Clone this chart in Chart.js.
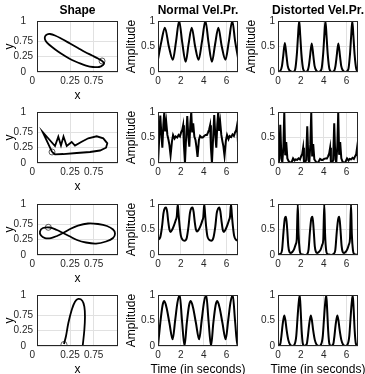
<!DOCTYPE html>
<html>
<head>
<meta charset="utf-8">
<script src="https://cdn.jsdelivr.net/npm/chart.js@4.4.1/dist/chart.umd.min.js"></script>
<style>
  html, body { margin: 0; padding: 0; background: #fff; width: 365px; height: 374px; overflow: hidden; }
  canvas { position: absolute; }
</style>
</head>
<body>
<script>
// ---- tick labels ----
const timeTicks = [0, 2, 4, 6];
const ampTicks = [0, 0.5, 1];
const shapeXTicks = [0, 0.48, 0.78];
const shapeXLabels = ['0', '0.25', '0.75'];
const shapeYTicks = [0, 0.3, 0.6, 1];
const shapeYLabels = ['0', '0.25', '0.75', '1'];

// ---- shapes (x, y) ----
const shape1X = [0.887, 0.836, 0.760, 0.670, 0.581, 0.480, 0.378, 0.289, 0.225, 0.187, 0.162, 0.162, 0.187, 0.251, 0.327, 0.416, 0.505, 0.594, 0.683, 0.772, 0.849, 0.900, 0.913, 0.887];
const shape1Y = [0.216, 0.265, 0.324, 0.392, 0.471, 0.559, 0.647, 0.716, 0.745, 0.735, 0.696, 0.637, 0.578, 0.490, 0.402, 0.314, 0.235, 0.176, 0.127, 0.098, 0.098, 0.137, 0.176, 0.216];
const shape1Start = [0.887, 0.216];

const shape2X = [0.251, 0.132, 0.289, 0.331, 0.365, 0.397, 0.438, 0.501, 0.543, 0.628, 0.712, 0.819, 0.903, 0.954, 0.938, 0.861, 0.734, 0.565, 0.394, 0.289, 0.251];
const shape2Y = [0.216, 0.608, 0.333, 0.516, 0.343, 0.520, 0.333, 0.412, 0.343, 0.418, 0.484, 0.524, 0.484, 0.386, 0.300, 0.245, 0.216, 0.196, 0.176, 0.171, 0.216];
const shape2Start = [0.251, 0.216];

const shape3X = [0.391, 0.314, 0.225, 0.136, 0.098, 0.111, 0.162, 0.238, 0.314, 0.391, 0.480, 0.581, 0.709, 0.836, 0.950, 1.027, 1.052, 1.027, 0.938, 0.810, 0.683, 0.569, 0.467, 0.391];
const shape3Y = [0.431, 0.490, 0.539, 0.529, 0.461, 0.382, 0.333, 0.333, 0.373, 0.431, 0.510, 0.578, 0.618, 0.608, 0.569, 0.500, 0.422, 0.333, 0.265, 0.225, 0.245, 0.294, 0.373, 0.431];
const shape3Start = [0.204, 0.543];

const shape4X = [0.403, 0.429, 0.458, 0.501, 0.543, 0.585, 0.636, 0.662, 0.670, 0.662, 0.641];
const shape4Y = [0.039, 0.196, 0.445, 0.706, 0.869, 0.922, 0.888, 0.771, 0.575, 0.314, 0.0];
const shape4Start = [0.403, 0.03];

// ---- velocity profiles: time (s) and amplitude ----
const normal1T = [0, 0.3, 0.6, 0.95, 1.3, 1.58, 1.85, 2.12, 2.42, 2.68, 2.95, 3.25, 3.55, 3.85, 4.15, 4.42, 4.72, 5.0, 5.28, 5.58, 5.9, 6.2, 6.5, 6.75, 7.0];
const normal1 = [0.25, 0.6, 0.87, 0.5, 0.24, 0.6, 1.0, 0.58, 0.2, 0.55, 0.87, 0.5, 0.24, 0.6, 1.0, 0.58, 0.2, 0.55, 0.87, 0.5, 0.24, 0.6, 1.0, 0.6, 0.28];
const distorted1T = [0, 0.2, 0.35, 0.45, 0.6, 0.75, 0.85, 1.0, 1.3, 1.5, 1.65, 1.75, 1.85, 1.95, 2.05, 2.2, 2.42,
  2.6, 2.7, 2.8, 2.95, 3.1, 3.2, 3.35, 3.55, 3.8, 3.95, 4.05, 4.15, 4.25, 4.35, 4.5, 4.72,
  4.93, 5.03, 5.13, 5.28, 5.43, 5.53, 5.68, 5.9, 6.15, 6.3, 6.4, 6.5, 6.6, 6.7, 6.85, 7.0];
const distorted1 = [0, 0.02, 0.12, 0.3, 0.57, 0.3, 0.12, 0.03, 0, 0.05, 0.35, 0.7, 1.0, 0.7, 0.35, 0.06, 0,
  0.03, 0.12, 0.3, 0.56, 0.3, 0.12, 0.03, 0, 0.05, 0.35, 0.7, 1.0, 0.7, 0.35, 0.06, 0,
  0.03, 0.12, 0.3, 0.56, 0.3, 0.12, 0.03, 0, 0.05, 0.35, 0.7, 1.0, 0.7, 0.35, 0.06, 0.01];

const cycle2T = [0, 0.1, 0.2, 0.3, 0.38, 0.47, 0.55, 0.63, 0.72, 0.82, 0.92, 1.0, 1.1, 1.22, 1.32, 1.45, 1.55, 1.68, 1.8, 1.92, 2.02, 2.12, 2.2, 2.27,
  2.36, 2.46, 2.56, 2.66, 2.74, 2.83, 2.91, 2.99, 3.08, 3.18, 3.28, 3.36, 3.46, 3.58, 3.68, 3.81, 3.91, 4.04, 4.16, 4.28, 4.38, 4.48, 4.56, 4.63,
  4.72, 4.82, 4.92, 5.02, 5.1, 5.19, 5.27, 5.35, 5.44, 5.54, 5.64, 5.72, 5.82, 5.94, 6.04, 6.17, 6.27, 6.4, 6.52, 6.64, 6.74, 6.84, 6.92, 7.0];
const normal2 = [0, 0.45, 0.93, 0.55, 0.3, 0.75, 1.0, 0.62, 0.8, 0.55, 0.45, 0.35, 0.15, 0.42, 0.55, 0.48, 0.52, 0.5, 0.55, 0.52, 0.6, 0.65, 0.74, 0.35,
  0, 0.5, 0.92, 0.5, 0.32, 0.78, 1.0, 0.6, 0.78, 0.52, 0.45, 0.32, 0.12, 0.45, 0.53, 0.5, 0.5, 0.53, 0.55, 0.55, 0.6, 0.66, 0.74, 0.3,
  0, 0.48, 0.94, 0.52, 0.3, 0.76, 1.0, 0.63, 0.8, 0.55, 0.42, 0.33, 0.14, 0.44, 0.55, 0.47, 0.53, 0.51, 0.56, 0.53, 0.6, 0.64, 0.74, 0.4];
const distorted2 = [0, 0.04, 0.75, 0.09, 0.01, 0.32, 1.0, 0.15, 0.41, 0.09, 0.04, 0.02, 0, 0.03, 0.09, 0.05, 0.07, 0.06, 0.09, 0.07, 0.13, 0.18, 0.3, 0.02,
  0, 0.06, 0.72, 0.06, 0.01, 0.37, 1.0, 0.13, 0.37, 0.07, 0.04, 0.01, 0, 0.04, 0.08, 0.06, 0.06, 0.08, 0.09, 0.09, 0.13, 0.19, 0.3, 0.01,
  0, 0.05, 0.78, 0.07, 0.01, 0.33, 1.0, 0.16, 0.41, 0.09, 0.03, 0.01, 0, 0.04, 0.09, 0.05, 0.08, 0.07, 0.1, 0.08, 0.13, 0.17, 0.3, 0.03];

const cycle3T = [0, 0.2, 0.35, 0.48, 0.6, 0.7, 0.8, 0.9, 1.0, 1.1, 1.25, 1.4, 1.55, 1.64, 1.73, 1.8, 1.9, 2.0, 2.15,
  2.32, 2.52, 2.67, 2.8, 2.92, 3.02, 3.12, 3.22, 3.32, 3.42, 3.57, 3.72, 3.87, 3.96, 4.05, 4.12, 4.22, 4.32, 4.47,
  4.66, 4.86, 5.01, 5.14, 5.26, 5.36, 5.46, 5.56, 5.66, 5.76, 5.91, 6.06, 6.21, 6.3, 6.39, 6.46, 6.56, 6.66, 6.81, 7.0];
const normal3 = [0.3, 0.35, 0.55, 0.82, 0.92, 0.93, 0.85, 0.65, 0.5, 0.45, 0.5, 0.58, 0.68, 0.75, 1.0, 0.8, 0.55, 0.38, 0.3,
  0.28, 0.34, 0.56, 0.83, 0.92, 0.93, 0.84, 0.64, 0.5, 0.46, 0.5, 0.57, 0.67, 0.74, 1.0, 0.8, 0.54, 0.37, 0.3,
  0.28, 0.35, 0.55, 0.82, 0.91, 0.93, 0.85, 0.66, 0.5, 0.45, 0.5, 0.58, 0.68, 0.75, 1.0, 0.8, 0.55, 0.38, 0.3, 0.28];
const distorted3 = [0.01, 0.02, 0.09, 0.45, 0.72, 0.75, 0.52, 0.18, 0.06, 0.04, 0.06, 0.11, 0.21, 0.3, 1.0, 0.41, 0.09, 0.02, 0.01,
  0, 0.01, 0.1, 0.47, 0.72, 0.75, 0.5, 0.17, 0.06, 0.04, 0.06, 0.1, 0.2, 0.3, 1.0, 0.41, 0.08, 0.02, 0.01,
  0, 0.02, 0.09, 0.45, 0.7, 0.75, 0.52, 0.19, 0.06, 0.04, 0.06, 0.11, 0.21, 0.32, 1.0, 0.41, 0.09, 0.02, 0.01, 0];

const normal4T = [0, 0.2, 0.4, 0.55, 0.75, 1.0, 1.28, 1.5, 1.7, 1.9, 2.1,
  2.32, 2.52, 2.72, 2.87, 3.07, 3.32, 3.6, 3.82, 4.02, 4.22, 4.42,
  4.64, 4.84, 5.04, 5.19, 5.39, 5.64, 5.92, 6.14, 6.34, 6.54, 6.74, 6.96, 7.0];
const normal4 = [0, 0.45, 0.8, 0.88, 0.75, 0.45, 0.13, 0.5, 0.85, 1.0, 0.5,
  0, 0.45, 0.8, 0.88, 0.75, 0.45, 0.13, 0.5, 0.85, 1.0, 0.5,
  0, 0.45, 0.8, 0.88, 0.75, 0.45, 0.13, 0.5, 0.85, 1.0, 0.5, 0, 0.08];
const distorted4T = [0, 0.2, 0.3, 0.4, 0.55, 0.65, 0.75, 0.9, 1.05, 1.28, 1.45, 1.6, 1.7, 1.8, 1.9, 1.98, 2.07, 2.17,
  2.32, 2.52, 2.62, 2.72, 2.87, 2.97, 3.07, 3.22, 3.37, 3.6, 3.77, 3.92, 4.02, 4.12, 4.22, 4.3, 4.39, 4.49,
  4.64, 4.84, 4.94, 5.04, 5.19, 5.29, 5.39, 5.54, 5.69, 5.92, 6.09, 6.24, 6.34, 6.44, 6.54, 6.62, 6.71, 6.81, 6.96, 7.0];
const distorted4 = [0, 0.04, 0.2, 0.41, 0.6, 0.5, 0.32, 0.12, 0.03, 0, 0.03, 0.2, 0.52, 0.82, 1.0, 0.72, 0.3, 0.05,
  0, 0.04, 0.2, 0.41, 0.6, 0.5, 0.32, 0.12, 0.03, 0, 0.03, 0.2, 0.52, 0.82, 1.0, 0.72, 0.3, 0.05,
  0, 0.04, 0.2, 0.41, 0.6, 0.5, 0.32, 0.12, 0.03, 0, 0.03, 0.2, 0.52, 0.82, 1.0, 0.72, 0.3, 0.05, 0, 0];

// ---- layout ----
Chart.defaults.font.family = '"Liberation Sans", Arial, Helvetica, sans-serif';
Chart.defaults.font.size = 10;
Chart.defaults.color = '#262626';

const GRID = '#e1e1e1';
const BOX_LEFT = [37, 158, 278];
const BOX_WIDTH = [81, 80, 80];
const BOX_TOP = [21, 112, 204, 295];
const BOX_HEIGHT = 51;
const PAD = { l: 40, t: 16, r: 8, b: 32 };

const xy = (xs, ys) => xs.map((x, i) => ({ x, y: ys[i] }));

// axes box plus the MATLAB-style title / axis labels
const frame = {
  id: 'frame',
  afterDraw(chart, args, o) {
    const { ctx, chartArea: a } = chart;
    ctx.save();
    ctx.strokeStyle = '#262626';
    ctx.lineWidth = 1;
    ctx.strokeRect(a.left + 0.5, a.top + 0.5, a.width - 1, a.height - 1);
    ctx.fillStyle = '#000';
    ctx.textAlign = 'center';
    ctx.textBaseline = 'middle';
    const cx = (a.left + a.right) / 2;
    if (o.title) {
      ctx.font = 'bold 12px "Liberation Sans", Arial, sans-serif';
      ctx.fillText(o.title, cx, a.top - 10);
    }
    ctx.font = '12px "Liberation Sans", Arial, sans-serif';
    if (o.xlabel) ctx.fillText(o.xlabel, cx, a.bottom + 24);
    if (o.ylabel) {
      ctx.translate(a.left - o.yOff, (a.top + a.bottom) / 2);
      ctx.rotate(-Math.PI / 2);
      ctx.fillText(o.ylabel, 0, 0);
    }
    ctx.restore();
  }
};

const axis = (ticks, labels, min, max, isX, crossAlign) => ({
  type: 'linear',
  min, max,
  afterBuildTicks: s => { s.ticks = ticks.map(v => ({ value: v })); },
  afterFit: s => { if (isX) s.height = PAD.b; else s.width = PAD.l; },
  ticks: {
    autoSkip: false, maxRotation: 0, minRotation: 0,
    padding: crossAlign ? 4 : 3,
    crossAlign: crossAlign || 'near',
    callback: (v, i) => labels[i]
  },
  grid: {
    drawTicks: false,
    lineWidth: 1,
    color: c => (c.tick && (c.tick.value < min || c.tick.value > max)) ? 'rgba(0,0,0,0)' : GRID
  },
  border: { display: false }
});

function cell(row, col, datasets, xAxis, yAxis, text) {
  const w = PAD.l + BOX_WIDTH[col] + PAD.r;
  const h = PAD.t + BOX_HEIGHT + PAD.b;
  const c = document.createElement('canvas');
  c.width = w; c.height = h;
  c.style.left = (BOX_LEFT[col] - PAD.l) + 'px';
  c.style.top = (BOX_TOP[row] - PAD.t) + 'px';
  c.style.width = w + 'px'; c.style.height = h + 'px';
  document.body.appendChild(c);
  new Chart(c, {
    type: 'line',
    data: { datasets },
    options: {
      responsive: false,
      animation: false,
      devicePixelRatio: 1,
      events: [],
      layout: { padding: { left: 0, top: PAD.t, right: PAD.r, bottom: 0 } },
      scales: { x: xAxis, y: yAxis },
      plugins: { legend: { display: false }, tooltip: { enabled: false }, frame: text }
    },
    plugins: [frame]
  });
}

const shapeLine = (xs, ys, tension) => ({
  type: 'scatter', data: xy(xs, ys), showLine: true, tension,
  borderColor: '#000', borderWidth: 1.8, pointRadius: 0, fill: false
});
const startMark = p => ({
  type: 'scatter', data: [{ x: p[0], y: p[1] }], showLine: false,
  pointRadius: 3, pointBorderWidth: 0.8, pointBorderColor: '#333', pointBackgroundColor: 'rgba(0,0,0,0)'
});
const velLine = (ts, vs, smooth) => ({
  data: xy(ts, vs), borderColor: '#000', borderWidth: 2, pointRadius: 0, fill: false,
  cubicInterpolationMode: smooth ? 'monotone' : 'default', tension: 0
});

const shapes = [
  [shape1X, shape1Y, shape1Start, 0.35],
  [shape2X, shape2Y, shape2Start, 0],
  [shape3X, shape3Y, shape3Start, 0.35],
  [shape4X, shape4Y, shape4Start, 0.35]
];
const normals = [[normal1T, normal1], [cycle2T, normal2], [cycle3T, normal3], [normal4T, normal4]];
const distorteds = [[distorted1T, distorted1], [cycle2T, distorted2], [cycle3T, distorted3], [distorted4T, distorted4]];

for (let r = 0; r < 4; r++) {
  const [sx, sy, st, ten] = shapes[r];
  cell(r, 0, [shapeLine(sx, sy, ten), startMark(st)],
    axis(shapeXTicks, shapeXLabels, 0.06, 1.09, true),
    axis(shapeYTicks, shapeYLabels, 0, 1, false, 'center'),
    { title: r === 0 ? 'Shape' : '', xlabel: 'x', ylabel: 'y', yOff: 27 });

  const last = r === 3;
  cell(r, 1, [velLine(normals[r][0], normals[r][1], r !== 1)],
    axis(timeTicks, timeTicks.map(String), 0, 7, true),
    axis(ampTicks, ampTicks.map(String), 0, 1, false),
    { title: r === 0 ? 'Normal Vel.Pr.' : '', xlabel: last ? 'Time (in seconds)' : '', ylabel: 'Amplitude', yOff: 26 });

  cell(r, 2, [velLine(distorteds[r][0], distorteds[r][1], r !== 1)],
    axis(timeTicks, timeTicks.map(String), 0, 7, true),
    axis(ampTicks, ampTicks.map(String), 0, 1, false),
    { title: r === 0 ? 'Distorted Vel.Pr.' : '', xlabel: last ? 'Time (in seconds)' : '', ylabel: r === 0 ? 'Amplitude' : '', yOff: 26 });
}
</script>
</body>
</html>
